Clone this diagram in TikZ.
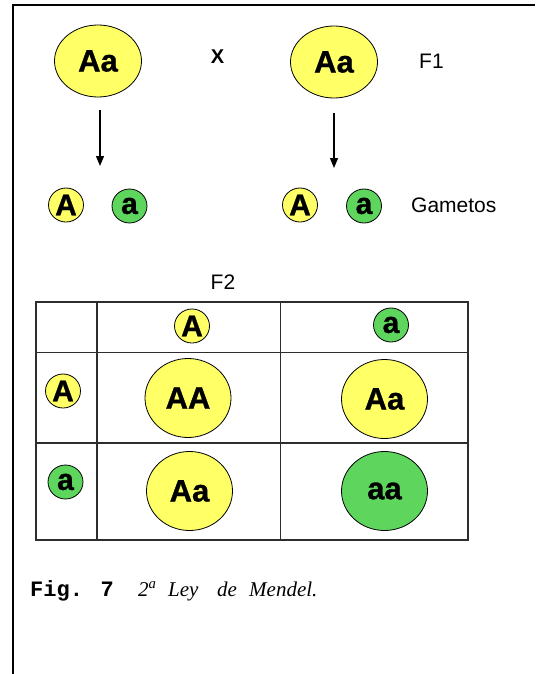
\documentclass[tikz,border=0pt]{standalone}
\usepackage{fontspec}
\setmainfont{Liberation Sans}
\newfontfamily\widef{Liberation Sans}[FakeBold=1]
\newfontfamily\monof{Liberation Mono}
\newfontfamily\capf{Liberation Serif}
\usetikzlibrary{shapes.geometric,arrows.meta}
\definecolor{yel}{RGB}{255,255,102}
\definecolor{grn}{RGB}{94,214,94}
\definecolor{tbl}{RGB}{45,45,45}
\begin{document}
\begin{tikzpicture}[x=1pt,y=-1pt,
  big/.style={ellipse,draw=black,line width=0.8pt,minimum width=87pt,minimum height=72pt,inner sep=0pt,font=\widef\fontsize{31}{31}\selectfont\bfseries},
  cell/.style={ellipse,draw=black,line width=0.8pt,minimum width=86pt,minimum height=79pt,inner sep=0pt,font=\widef\fontsize{31}{31}\selectfont\bfseries},
  gam/.style={ellipse,draw=black,line width=0.8pt,minimum width=35pt,minimum height=34pt,inner sep=0pt,font=\widef\fontsize{30}{30}\selectfont\bfseries},
  lbl/.style={font=\fontsize{21}{21}\selectfont,inner sep=0pt},
  cw/.style={anchor=base west,inner sep=0pt,font=\capf\itshape\fontsize{21}{21}\selectfont},
  arr/.style={-{Triangle[width=8pt,length=10pt]},line width=1.2pt}]
\useasboundingbox (0,0) rectangle (535,674);
% frame
\draw[line width=1.5pt] (535,5) -- (13,5) -- (13,674);
% parents
\node[big,fill=yel] (p1) at (98,61) {Aa};
\node[big,fill=yel] (p2) at (334,62) {Aa};
\node[font=\fontsize{20}{20}\selectfont\bfseries,inner sep=0pt] (x) at (217.5,56.5) {X};
\node[lbl,anchor=west] (f1) at (419,61) {F1};
% arrows
\coordinate (a1s) at (100,110);
\coordinate (a1e) at (100,166);
\coordinate (a2s) at (334,113);
\coordinate (a2e) at (334,168);
\draw[arr] (a1s) -- (a1e);
\draw[arr] (a2s) -- (a2e);
% gametes
\node[gam,fill=yel] (g1) at (66,205) {A};
\node[gam,fill=grn] (g2) at (129.5,206) {a};
\node[gam,fill=yel] (g3) at (300,205) {A};
\node[gam,fill=grn] (g4) at (364,206) {a};
\node[lbl,anchor=west] (gt) at (411,205) {Gametos};
% F2
\node[lbl] (f2) at (223,282) {F2};
% table
\draw[tbl,line width=1.4pt] (36,302) rectangle (468,540);
\draw[tbl,line width=1.4pt] (97,302) -- (97,540);
\draw[tbl,line width=1.4pt] (280.5,302) -- (280.5,540);
\draw[tbl,line width=1.4pt] (36,352.5) -- (468,352.5);
\draw[tbl,line width=1.4pt] (36,443) -- (468,443);
\node[gam,fill=yel] (hA) at (192,326) {A};
\node[gam,fill=grn] (ha) at (391,325) {a};
\node[gam,fill=yel] (rA) at (63,391) {A};
\node[gam,fill=grn] (ra) at (65.5,482) {a};
\node[cell,fill=yel] (c11) at (188,398) {AA};
\node[cell,fill=yel] (c12) at (384.5,399) {Aa};
\node[cell,fill=yel] (c21) at (189.5,491) {Aa};
\node[cell,fill=grn] (c22) at (384.5,491) {aa};
% caption
\node[anchor=base west,inner sep=0pt,font=\monof\bfseries\fontsize{22}{22}\selectfont] (fig) at (30,596) {Fig. 7};
\node[cw] (w1) at (138,596) {2\textsuperscript{a}};
\node[cw] (w2) at (168,596) {Ley};
\node[cw] (w3) at (217,596) {de};
\node[cw] (w4) at (249,596) {Mendel.};
\end{tikzpicture}
\end{document}
